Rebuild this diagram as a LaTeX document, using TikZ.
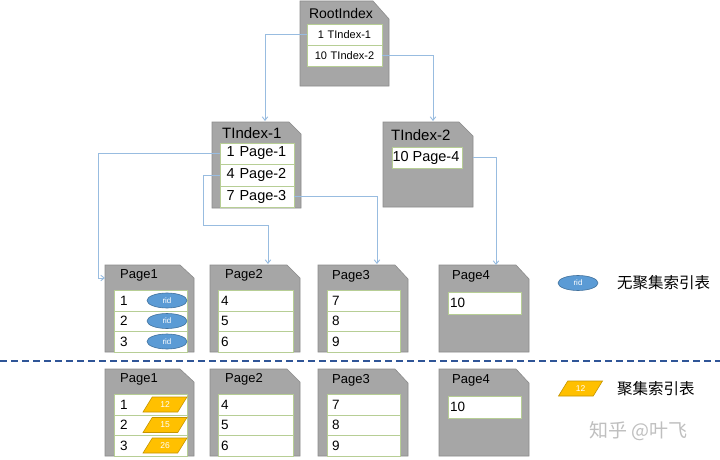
\documentclass[tikz,border=0pt]{standalone}
\usepackage{fontspec}
\setmainfont{Liberation Sans}
\newfontfamily\cjk{Noto Sans CJK SC}
\usetikzlibrary{arrows.meta,shapes.geometric}
\definecolor{boxgray}{HTML}{A6A6A6}
\definecolor{boxedge}{HTML}{8C8C8C}
\definecolor{rowedge}{HTML}{B7CE95}
\definecolor{linkblue}{HTML}{98BCE0}
\definecolor{ridblue}{HTML}{5B9BD5}
\definecolor{ridedge}{HTML}{41719C}
\definecolor{keygold}{HTML}{FFC000}
\definecolor{keyedge}{HTML}{C49500}
\definecolor{sepblue}{HTML}{2F5597}
\tikzset{
 shell/.style={anchor=north west, inner sep=0pt, outer sep=0pt},
 shellfill/.style={fill=boxgray, draw=boxedge, line width=0.6pt},
 row/.style={draw=rowedge, fill=white, line width=0.8pt, inner ysep=0pt, outer sep=0pt, anchor=north west, align=left},
 ttl/.style={anchor=west, inner sep=0pt, font=\fontsize{15}{17}\selectfont},
 ptitle/.style={anchor=west, inner sep=0pt, font=\fontsize{13}{15}\selectfont},
 prow/.style={row, font=\fontsize{13.5}{15}\selectfont},
 trow/.style={row, font=\fontsize{14.5}{16}\selectfont},
 rid/.style={ellipse, fill=ridblue, draw=ridedge, line width=0.6pt, minimum width=40pt, minimum height=15pt, inner sep=0pt, text=white, font=\fontsize{8}{9}\selectfont},
 gold/.style={trapezium, trapezium left angle=60, trapezium right angle=120, trapezium stretches=true, fill=keygold, draw=keyedge, line width=0.6pt, minimum width=44pt, minimum height=15pt, inner sep=0pt, text=white, font=\fontsize{8.5}{9}\selectfont},
 linkarrow/.style={draw=linkblue, line width=0.9pt, -{Straight Barb[length=3.5pt,width=5.5pt]}},
 legtext/.style={anchor=west, inner sep=0pt, font=\cjk\fontsize{15.5}{17}\selectfont},
}
% name, x, y, w, h, cut w, cut h
\newcommand\cutbox[7]{%
 \node[shell, minimum width=#4pt, minimum height=#5pt] (#1) at (#2,#3) {};
 \filldraw[shellfill] (#1.north west) -- ([xshift=-#6pt]#1.north east) -- ([yshift=-#7pt]#1.north east) -- (#1.south east) -- (#1.south west) -- cycle;}
% prefix, top y
\newcommand\pageset[2]{%
 \cutbox{#1pa}{105}{#2}{89}{87}{14}{13}
 \node[ptitle] (#1pat) at (120,#2+10) {Page1};
 \node[prow, text width=61pt, inner xsep=6pt, minimum height=21pt] (#1pa1) at (114,#2+25) {1};
 \node[prow, text width=61pt, inner xsep=6pt, minimum height=20pt] (#1pa2) at (114,#2+46) {2};
 \node[prow, text width=61pt, inner xsep=6pt, minimum height=21pt] (#1pa3) at (114,#2+66) {3};
 \cutbox{#1pb}{210}{#2}{90}{87}{13}{13}
 \node[ptitle] (#1pbt) at (225,#2+10) {Page2};
 \node[prow, text width=69pt, inner xsep=3pt, minimum height=21pt] (#1pb1) at (218,#2+25) {4};
 \node[prow, text width=69pt, inner xsep=3pt, minimum height=20pt] (#1pb2) at (218,#2+46) {5};
 \node[prow, text width=69pt, inner xsep=3pt, minimum height=21pt] (#1pb3) at (218,#2+66) {6};
 \cutbox{#1pc}{318}{#2}{90}{87}{13}{14}
 \node[ptitle] (#1pct) at (332,#2+11) {Page3};
 \node[prow, text width=63pt, inner xsep=5pt, minimum height=21pt] (#1pc1) at (327,#2+25) {7};
 \node[prow, text width=63pt, inner xsep=5pt, minimum height=20pt] (#1pc2) at (327,#2+46) {8};
 \node[prow, text width=63pt, inner xsep=5pt, minimum height=21pt] (#1pc3) at (327,#2+66) {9};
 \cutbox{#1pd}{439}{#2}{90}{87}{13}{14}
 \node[ptitle] (#1pdt) at (452,#2+11) {Page4};
 \node[prow, text width=69pt, inner xsep=2pt, minimum height=22pt] (#1pd1) at (448,#2+27) {10};
}
\begin{document}
\begin{tikzpicture}[x=1pt,y=-1pt]
\fill[white] (0,0) rectangle (720,460);
\useasboundingbox (0,0) rectangle (720,460);
% root
\cutbox{root}{300}{1}{89}{85}{16}{18}
\node[inner sep=0pt, font=\fontsize{14}{16}\selectfont] (roott) at (341,13) {RootIndex};
\node[row, text width=69pt, inner xsep=3pt, align=center, minimum height=21pt, font=\fontsize{11}{12}\selectfont] (ra) at (307,24) {1 TIndex-1};
\node[row, text width=69pt, inner xsep=3pt, align=center, minimum height=21pt, font=\fontsize{11}{12}\selectfont] (rb) at (307,45) {10 TIndex-2};
% TIndex-1
\cutbox{ti}{212}{122}{89}{86}{12}{12}
\node[ttl] (tit) at (222,133) {TIndex-1};
\node[trow, text width=61pt, inner xsep=6.5pt, minimum height=21pt] (tia) at (220,143) {1\hspace{5pt}Page-1};
\node[trow, text width=61pt, inner xsep=6.5pt, minimum height=22pt] (tib) at (220,164) {4\hspace{5pt}Page-2};
\node[trow, text width=61pt, inner xsep=6.5pt, minimum height=21pt] (tic) at (220,186) {7\hspace{5pt}Page-3};
% TIndex-2
\cutbox{tj}{383}{122}{90}{85}{14}{14}
\node[ttl] (tjt) at (391,135) {TIndex-2};
\node[trow, text width=69pt, inner xsep=0.5pt, minimum height=21pt] (tja) at (392,147) {\mbox{10\hspace{4pt}Page-4}};
% pages
\pageset{u}{265}
\pageset{l}{369}
% rid ellipses
\node[rid] (e1) at ([xshift=-20pt]upa1.east) {rid};
\node[rid] (e2) at ([xshift=-20pt]upa2.east) {rid};
\node[rid] (e3) at ([xshift=-20pt]upa3.east) {rid};
% clustered keys
\node[gold] (g1) at ([xshift=-22pt]lpa1.east) {12};
\node[gold] (g2) at ([xshift=-22pt]lpa2.east) {15};
\node[gold] (g3) at ([xshift=-22pt]lpa3.east) {26};
% separator
\coordinate (sepl) at (0,361);
\coordinate (sepr) at (720,361);
\draw[sepblue, line width=1.2pt, dash pattern=on 7pt off 4pt] (sepl) -- (sepr);
% legend
\node[rid] (le) at (578,283) {rid};
\node[legtext] (lt1) at (617,283) {无聚集索引表};
\node[gold] (lg) at (580.5,388.5) {12};
\node[legtext] (lt2) at (617,389) {聚集索引表};
\node[anchor=west, inner sep=0pt, text=black!25, font=\cjk\fontsize{19}{21}\selectfont] (wm) at (589,431) {知乎 @叶飞};
% connectors
\coordinate (tiin) at (265,121);
\coordinate (tjin) at (433,121);
\coordinate (k1) at (98,278);
\coordinate (k2) at (203,225);
\coordinate (pbin) at (268,264);
\coordinate (pcin) at (377,264);
\coordinate (pdin) at (496,265);
\draw[linkarrow] (ra.west) -| (tiin);
\draw[linkarrow] (rb.east) -| (tjin);
\draw[linkarrow] (tia.west) -| (k1) -- (k1 -| upa.west);
\draw[linkarrow] (tib.west) -| (k2) -| (pbin);
\draw[linkarrow] (tic.east) -| (pcin);
\draw[linkarrow] (tja.east -| tj.east) -| (pdin);
\end{tikzpicture}
\end{document}
